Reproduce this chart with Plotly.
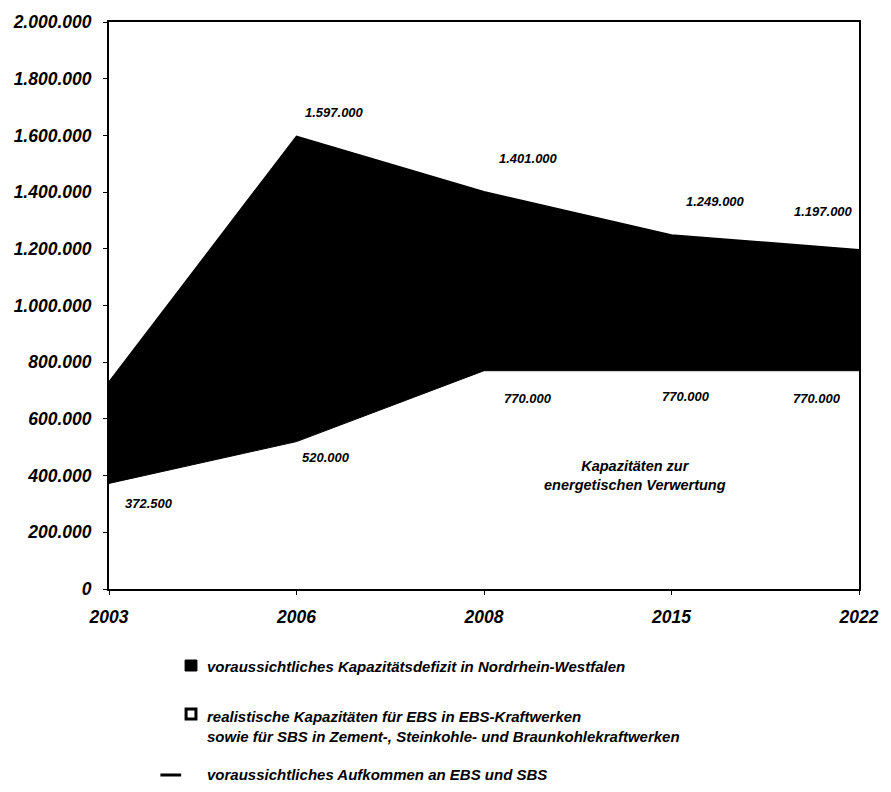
import plotly.graph_objects as go

years = ["2003", "2006", "2008", "2015", "2022"]
capacity = [372500, 520000, 770000, 770000, 770000]
volume = [730000, 1597000, 1401000, 1249000, 1197000]

volume_labels = [None, "1.597.000", "1.401.000", "1.249.000", "1.197.000"]
capacity_labels = ["372.500", "520.000", "770.000", "770.000", "770.000"]

name_deficit = "voraussichtliches Kapazitätsdefizit in Nordrhein-Westfalen"
name_capacity = ("realistische Kapazitäten für EBS in EBS-Kraftwerken<br>"
                 "sowie für SBS in Zement-, Steinkohle- und Braunkohlekraftwerken")
name_volume = "voraussichtliches Aufkommen an EBS und SBS"
area_text = "Kapazitäten zur<br>energetischen Verwertung"

FONT = "Liberation Sans, Arial, sans-serif"

# plot area in pixels
L, R, T, B = 109, 868, 22, 589
W, H = R - L, B - T


def px(x):
    return (x - L) / W


def py(y):
    return (B - y) / H


fig = go.Figure()
fig.add_trace(go.Scatter(
    x=years, y=capacity, mode="lines", fill="tozeroy",
    fillcolor="white", line=dict(color="black", width=1),
    name=name_capacity, showlegend=False, hoverinfo="skip"))
fig.add_trace(go.Scatter(
    x=years, y=volume, mode="lines", fill="tonexty",
    fillcolor="black", line=dict(color="black", width=1.5),
    name=name_deficit, showlegend=False, hoverinfo="skip"))

lab_font = dict(family=FONT, size=13, color="black", weight="bold", style="italic")
vol_shift = [(0, 0), (38, 24), (44, 33), (44, 33), (-36, 38)]
cap_shift = [(40, -20), (29, -16), (44, -28), (14, -26), (-42, -28)]
for i in range(len(years)):
    if volume_labels[i]:
        fig.add_annotation(x=i, y=volume[i], text=volume_labels[i], showarrow=False,
                           xshift=vol_shift[i][0], yshift=vol_shift[i][1], font=lab_font)
    fig.add_annotation(x=i, y=capacity[i], text=capacity_labels[i], showarrow=False,
                       xshift=cap_shift[i][0], yshift=cap_shift[i][1], font=lab_font)

fig.add_annotation(x=3, y=400000, text=area_text, showarrow=False, xshift=-37,
                   font=dict(family=FONT, size=14.5, color="black", weight="bold", style="italic"))

# manual legend
leg_font = dict(family=FONT, size=15, color="black", weight="bold", style="italic")
text_x = 206
entries = [
    (name_deficit, 666, "fill"),
    (name_capacity, 726, "box"),
    (name_volume, 775, "line"),
]
for text, yc, kind in entries:
    fig.add_annotation(xref="paper", yref="paper", x=px(text_x), y=py(yc),
                       xanchor="left", yanchor="middle", align="left",
                       text=text, showarrow=False, font=leg_font)
# symbols
fig.add_shape(type="rect", xref="paper", yref="paper",
              x0=px(186), x1=px(198), y0=py(660), y1=py(671),
              fillcolor="black", line=dict(color="black", width=1))
fig.add_shape(type="rect", xref="paper", yref="paper",
              x0=px(187), x1=px(197), y0=py(709), y1=py(719),
              fillcolor="white", line=dict(color="black", width=3))
fig.add_shape(type="line", xref="paper", yref="paper",
              x0=px(161), x1=px(182), y0=py(775), y1=py(775),
              line=dict(color="black", width=3))

fig.update_layout(
    width=891, height=792,
    margin=dict(l=L, r=891 - R, t=T, b=792 - B),
    paper_bgcolor="white", plot_bgcolor="white",
    separators=",.",
    font=dict(family=FONT, color="black"),
    showlegend=False,
)
fig.update_xaxes(
    type="category", range=[0, 4], showgrid=False, zeroline=False,
    showline=True, linecolor="black", linewidth=2, mirror=True,
    ticks="outside", ticklen=4, tickcolor="black", ticklabelstandoff=7,
    tickfont=dict(family=FONT, size=17.5, color="black", weight="bold", style="italic"),
)
fig.update_yaxes(
    range=[0, 2000000], dtick=200000, tickformat=",d",
    showgrid=False, zeroline=False,
    showline=True, linecolor="black", linewidth=2, mirror=True,
    ticks="outside", ticklen=4, tickcolor="black", ticklabelstandoff=8,
    tickfont=dict(family=FONT, size=17.5, color="black", weight="bold", style="italic"),
)

fig.write_html("out.html")
